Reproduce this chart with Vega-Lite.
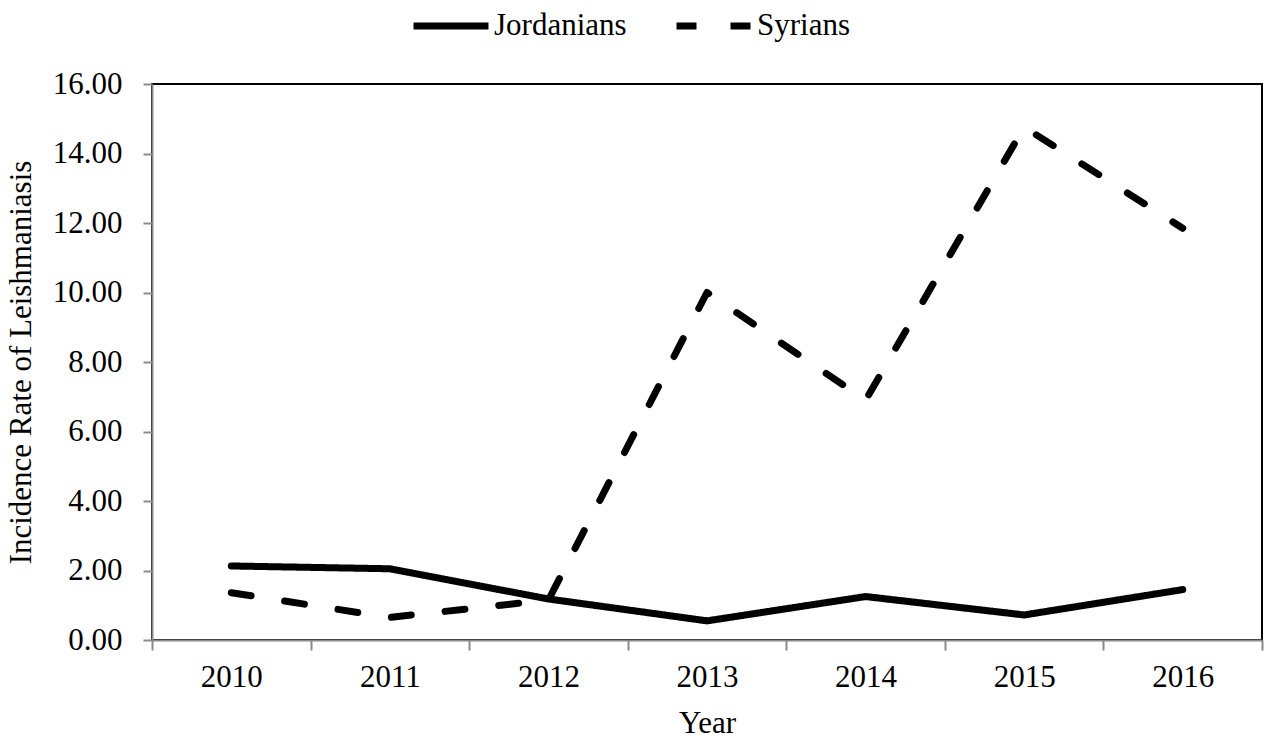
{
  "$schema": "https://vega.github.io/schema/vega-lite/v6.json",
  "width": 1110,
  "height": 556,
  "autosize": "none",
  "padding": {"left": 152, "top": 84, "right": 2, "bottom": 98},
  "background": "white",
  "data": {
    "values": [
      {"Year": "2010", "Group": "Jordanians", "Rate": 2.13},
      {"Year": "2011", "Group": "Jordanians", "Rate": 2.05},
      {"Year": "2012", "Group": "Jordanians", "Rate": 1.18},
      {"Year": "2013", "Group": "Jordanians", "Rate": 0.55},
      {"Year": "2014", "Group": "Jordanians", "Rate": 1.25},
      {"Year": "2015", "Group": "Jordanians", "Rate": 0.72},
      {"Year": "2016", "Group": "Jordanians", "Rate": 1.45},
      {"Year": "2010", "Group": "Syrians", "Rate": 1.36},
      {"Year": "2011", "Group": "Syrians", "Rate": 0.65},
      {"Year": "2012", "Group": "Syrians", "Rate": 1.15},
      {"Year": "2013", "Group": "Syrians", "Rate": 10.0},
      {"Year": "2014", "Group": "Syrians", "Rate": 6.9},
      {"Year": "2015", "Group": "Syrians", "Rate": 14.76},
      {"Year": "2016", "Group": "Syrians", "Rate": 11.85}
    ]
  },
  "mark": {"type": "line", "strokeWidth": 7, "strokeCap": "round", "strokeJoin": "round", "color": "black"},
  "encoding": {
    "x": {
      "field": "Year", "type": "ordinal", "title": "Year",
      "scale": {"type": "band", "paddingInner": 0, "paddingOuter": 0},
      "axis": {"labelAngle": 0, "tickBand": "extent", "tickSize": 10, "labelPadding": 12, "titlePadding": 16}
    },
    "y": {
      "field": "Rate", "type": "quantitative", "title": "Incidence Rate of Leishmaniasis",
      "scale": {"domain": [0, 16], "nice": false, "zero": true},
      "axis": {"values": [0, 2, 4, 6, 8, 10, 12, 14, 16], "format": ".2f", "grid": false, "tickSize": 9, "labelPadding": 21, "titlePadding": 15}
    },
    "strokeDash": {
      "field": "Group", "type": "nominal",
      "scale": {"domain": ["Jordanians", "Syrians"], "range": [[1, 0], [20, 34]]},
      "legend": {
        "title": null, "orient": "none", "direction": "horizontal",
        "legendX": 258, "legendY": -99,
        "symbolType": "stroke", "symbolSize": 5625, "symbolStrokeWidth": 7,
        "symbolStrokeColor": "black", "labelOffset": 2, "columnPadding": 35,
        "labelFontSize": 31, "labelColor": "black", "labelFont": "Liberation Serif", "padding": 0
      }
    }
  },
  "config": {
    "font": "Liberation Serif",
    "view": {"stroke": "black", "strokeWidth": 2},
    "axis": {
      "domainColor": "#8a8a8a", "domainWidth": 2, "tickColor": "#8a8a8a", "tickWidth": 2,
      "labelFontSize": 31, "labelColor": "black", "titleFontSize": 31, "titleColor": "black",
      "titleFontWeight": "normal", "labelFont": "Liberation Serif", "titleFont": "Liberation Serif"
    }
  }
}
